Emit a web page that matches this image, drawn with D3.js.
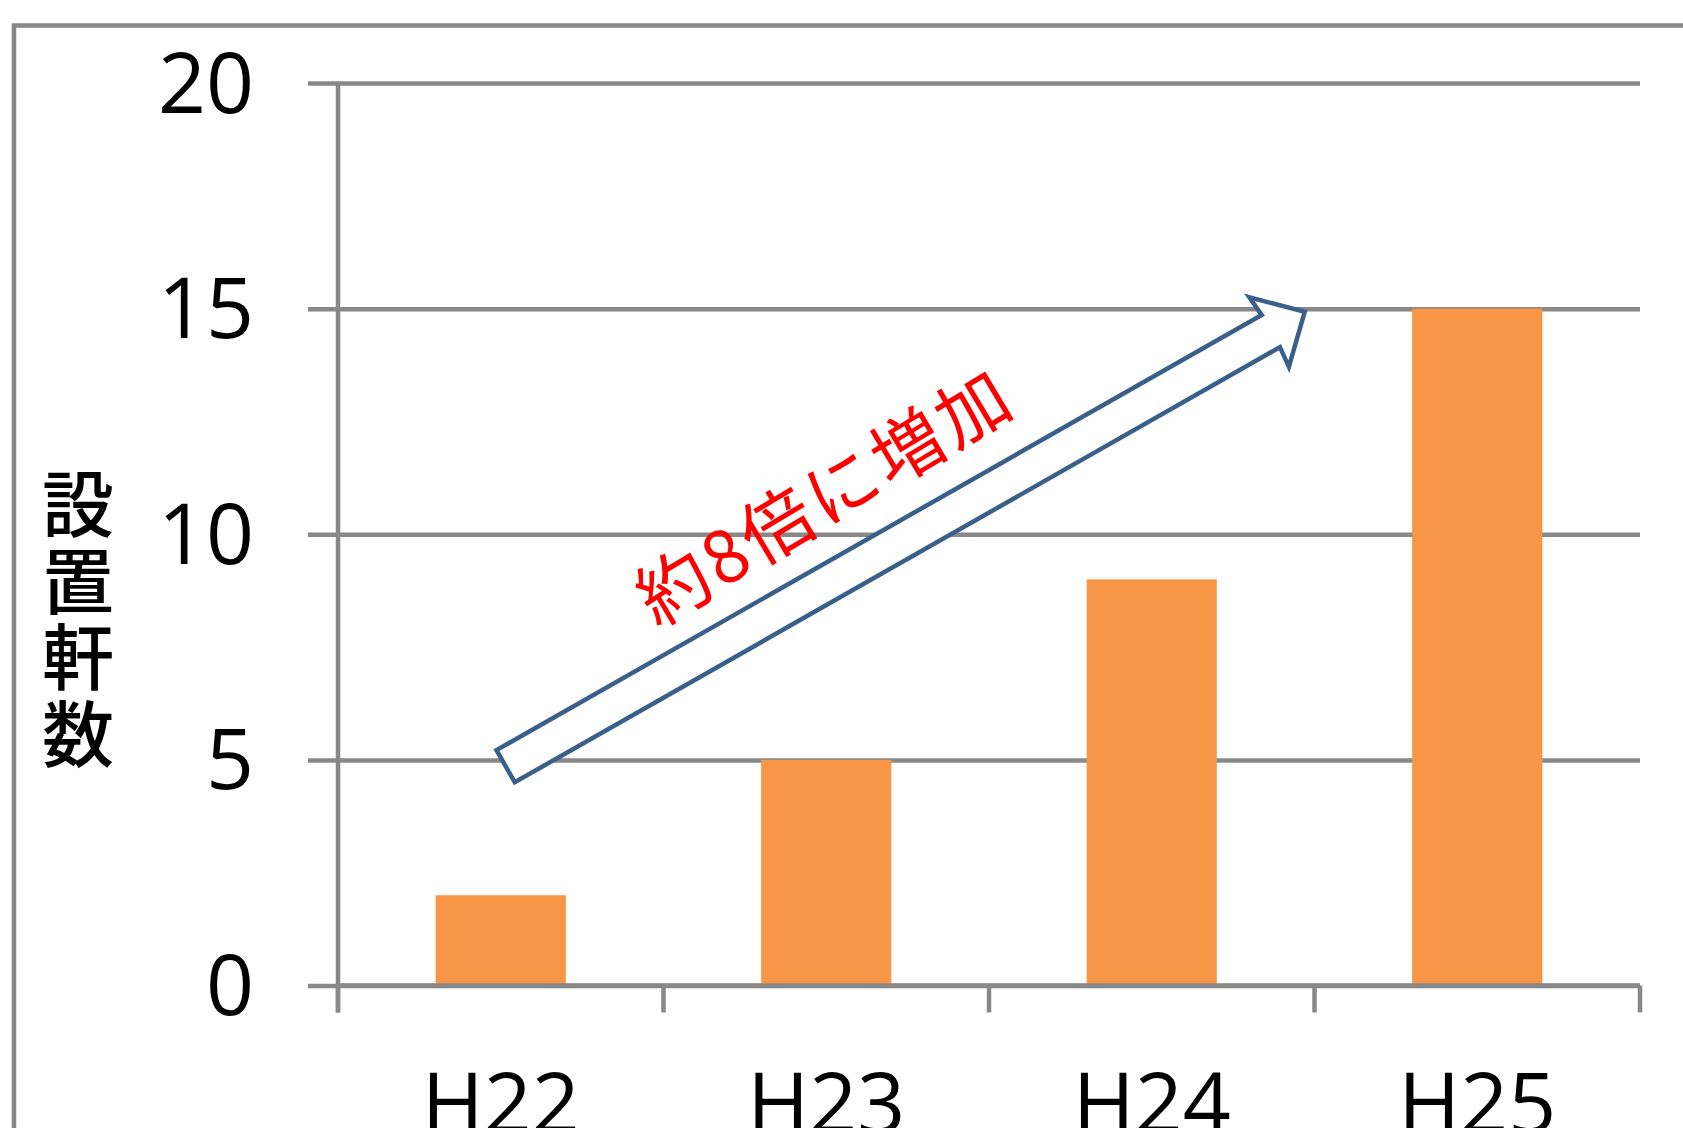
<!DOCTYPE html>
<html>
<head>
<meta charset="utf-8">
<script src="https://cdn.jsdelivr.net/npm/d3@7"></script>
<style>
  html, body { margin: 0; padding: 0; background: #ffffff; }
  svg { display: block; }
</style>
</head>
<body>
<svg id="chart" width="1683" height="1128"></svg>
<script>
// ---- data ----
const categories = ["H22", "H23", "H24", "H25"];
const values = [2, 5, 9, 15];
const yTicks = [0, 5, 10, 15, 20];
const yTitle = "設置軒数";
const annotationText = "約8倍に増加";
// arrow anchors: position in category steps from axis start, and value
const arrowFrom = { pos: 0.515, value: 4.86 };
const arrowTo = { pos: 2.97, value: 14.93 };

// ---- layout ----
const W = 1683, H = 1128;
const plot = { left: 338, right: 1640, top: 83, bottom: 985.5 };
const gray = "#888888";
const barColor = "#F79646";
const arrowColor = "#3A5F8B";

const svg = d3.select("#chart");

const x = d3.scaleBand()
  .domain(categories)
  .range([plot.left, plot.right])
  .paddingInner(0.6)
  .paddingOuter(0.3);

const y = d3.scaleLinear()
  .domain([0, 20])
  .range([plot.bottom, plot.top]);

// outer border
svg.append("rect")
  .attr("x", 14).attr("y", 25.5)
  .attr("width", W + 20).attr("height", H + 20)
  .attr("fill", "none")
  .attr("stroke", gray)
  .attr("stroke-width", 4.5);

// gridlines + y ticks
const yAxis = d3.axisLeft(y)
  .tickValues(yTicks)
  .tickSize(-(plot.right - plot.left))
  .tickSizeOuter(0)
  .tickPadding(0)
  .tickFormat(d3.format("d"));

const gY = svg.append("g")
  .attr("transform", `translate(${plot.left},0)`)
  .call(yAxis);
gY.select(".domain").remove();
gY.selectAll(".tick line")
  .attr("x1", -30)
  .attr("stroke", gray)
  .attr("stroke-width", 4.5);
gY.selectAll(".tick text")
  .attr("x", -84)
  .attr("dy", null)
  .attr("y", 29)
  .attr("text-anchor", "end")
  .attr("fill", "#000")
  .style("font-family", "'Open Sans', 'Noto Sans', sans-serif")
  .style("font-size", "84px");

// bars
svg.append("g")
  .selectAll("rect")
  .data(values)
  .join("rect")
  .attr("x", (d, i) => x(categories[i]))
  .attr("y", d => y(d))
  .attr("width", x.bandwidth())
  .attr("height", d => y(0) - y(d))
  .attr("fill", barColor);

// y axis line
svg.append("line")
  .attr("x1", plot.left).attr("x2", plot.left)
  .attr("y1", plot.top).attr("y2", plot.bottom + 27)
  .attr("stroke", gray).attr("stroke-width", 4.5);

// x axis
const tickPositions = d3.range(categories.length + 1).map(i => plot.left + i * x.step());
svg.append("line")
  .attr("x1", plot.left).attr("x2", plot.right)
  .attr("y1", y(0)).attr("y2", y(0))
  .attr("stroke", gray).attr("stroke-width", 4.5);
svg.append("g")
  .selectAll("line")
  .data(tickPositions)
  .join("line")
  .attr("x1", d => d).attr("x2", d => d)
  .attr("y1", y(0)).attr("y2", y(0) + 27)
  .attr("stroke", gray).attr("stroke-width", 4.5);

// x labels
svg.append("g")
  .selectAll("text")
  .data(categories)
  .join("text")
  .attr("x", d => x(d) + x.bandwidth() / 2)
  .attr("y", 1133)
  .attr("text-anchor", "middle")
  .attr("fill", "#000")
  .style("font-family", "'Open Sans', 'Noto Sans', sans-serif")
  .style("font-size", "84px")
  .text(d => d);

// y title (vertical writing)
svg.append("text")
  .attr("x", 78)
  .attr("y", 621)
  .attr("text-anchor", "middle")
  .attr("fill", "#000")
  .style("writing-mode", "vertical-rl")
  .style("text-orientation", "upright")
  .style("font-family", "'Noto Sans CJK JP', sans-serif")
  .style("font-weight", 500)
  .style("font-size", "72px")
  .style("letter-spacing", "4.5px")
  .text(yTitle);

// ---- block arrow annotation ----
const p0 = [plot.left + arrowFrom.pos * x.step(), y(arrowFrom.value)];
const p1 = [plot.left + arrowTo.pos * x.step(), y(arrowTo.value)];
const dx = p1[0] - p0[0], dy = p1[1] - p0[1];
const len = Math.hypot(dx, dy);
const ang = Math.atan2(dy, dx) * 180 / Math.PI;
const shaftHalf = 18.5, headHalf = 40, headLen = 39;
const shape = [
  [0, -shaftHalf],
  [len - headLen, -shaftHalf],
  [len - headLen - 2, -headHalf],
  [len, 0],
  [len - headLen - 2, headHalf],
  [len - headLen, shaftHalf],
  [0, shaftHalf]
];
svg.append("path")
  .attr("transform", `translate(${p0[0]},${p0[1]}) rotate(${ang})`)
  .attr("d", d3.line()(shape) + "Z")
  .attr("fill", "#ffffff")
  .attr("stroke", arrowColor)
  .attr("stroke-width", 4.5)
  .attr("stroke-linejoin", "miter");

// annotation text along arrow
const textAlong = 0.447 * len, textOff = -76;
svg.append("text")
  .attr("transform", `translate(${p0[0]},${p0[1]}) rotate(${ang}) translate(${textAlong},${textOff}) rotate(-1.2)`)
  .attr("text-anchor", "middle")
  .attr("dy", "0.36em")
  .attr("fill", "#FF0000")
  .style("font-family", "'Noto Sans CJK JP', sans-serif")
  .style("font-weight", 400)
  .style("font-size", "72px")
  .style("letter-spacing", "4px")
  .text(annotationText);
</script>
</body>
</html>
